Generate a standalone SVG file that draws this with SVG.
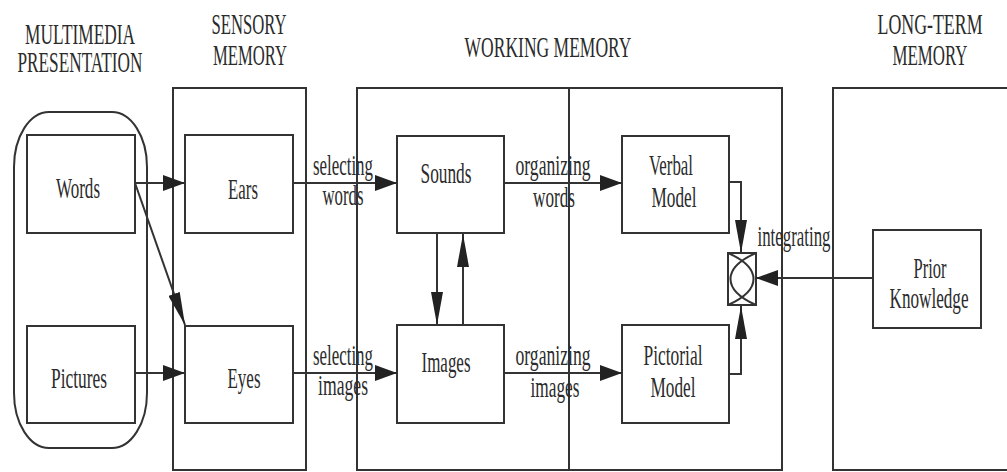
<svg xmlns="http://www.w3.org/2000/svg" width="1007" height="472" viewBox="0 0 1007 472">
<style>
.box{fill:none;stroke:#333;stroke-width:2}
.frame{fill:none;stroke:#333;stroke-width:2}
.ln{fill:none;stroke:#333;stroke-width:2}
text{font-family:"Liberation Serif","Times New Roman",serif;font-size:30px;fill:#2b2b2b;text-anchor:middle}
</style>
<defs>
<marker id="ah" markerUnits="userSpaceOnUse" markerWidth="22" markerHeight="16" refX="22" refY="8" orient="auto" viewBox="0 0 22 16"><path d="M0,0 L22,8 L0,16 z" fill="#222"/></marker>
<marker id="av" markerUnits="userSpaceOnUse" markerWidth="33" markerHeight="12" refX="33" refY="6" orient="auto" viewBox="0 0 33 12"><path d="M0,0 L33,6 L0,12 z" fill="#222"/></marker>
</defs>
<rect width="1007" height="472" fill="#fff"/>
<g id="titles">
<text x="80" y="44" textLength="110" lengthAdjust="spacingAndGlyphs">MULTIMEDIA</text>
<text x="80" y="72" textLength="125" lengthAdjust="spacingAndGlyphs">PRESENTATION</text>
<text x="249" y="34" textLength="75" lengthAdjust="spacingAndGlyphs">SENSORY</text>
<text x="250" y="65" textLength="74" lengthAdjust="spacingAndGlyphs">MEMORY</text>
<text x="548" y="57" textLength="167" lengthAdjust="spacingAndGlyphs">WORKING MEMORY</text>
<text x="930" y="34" textLength="105" lengthAdjust="spacingAndGlyphs">LONG-TERM</text>
<text x="930" y="65" textLength="75" lengthAdjust="spacingAndGlyphs">MEMORY</text>
</g>
<g id="frames">
<rect id="multimedia" class="frame" x="14" y="112" width="133" height="336" rx="35" ry="55"/>
<rect id="sensory" class="frame" x="173" y="88" width="133" height="382"/>
<rect id="working" class="frame" x="357" y="88" width="425" height="382"/>
<line class="frame" x1="569" y1="88" x2="569" y2="470"/>
<path id="longterm" class="frame" d="M1010,88 L833,88 L833,470 L1010,470"/>
</g>
<g id="words"><rect class="box" x="27" y="135" width="108" height="98"/><text x="78" y="198" textLength="44" lengthAdjust="spacingAndGlyphs">Words</text></g>
<g id="pictures"><rect class="box" x="27" y="326" width="108" height="97"/><text x="79" y="388" textLength="56" lengthAdjust="spacingAndGlyphs">Pictures</text></g>
<g id="ears"><rect class="box" x="185" y="135" width="108" height="98"/><text x="243" y="199" textLength="30" lengthAdjust="spacingAndGlyphs">Ears</text></g>
<g id="eyes"><rect class="box" x="185" y="326" width="108" height="97"/><text x="244" y="388" textLength="33" lengthAdjust="spacingAndGlyphs">Eyes</text></g>
<g id="sounds"><rect class="box" x="397" y="136" width="107" height="97"/><text x="446" y="183" textLength="51" lengthAdjust="spacingAndGlyphs">Sounds</text></g>
<g id="images"><rect class="box" x="397" y="325" width="107" height="98"/><text x="446" y="372" textLength="49" lengthAdjust="spacingAndGlyphs">Images</text></g>
<g id="verbal"><rect class="box" x="622" y="136" width="107" height="97"/><text x="671" y="175" textLength="44" lengthAdjust="spacingAndGlyphs">Verbal</text><text x="674" y="207" textLength="45" lengthAdjust="spacingAndGlyphs">Model</text></g>
<g id="pictorial"><rect class="box" x="622" y="325" width="107" height="98"/><text x="673" y="365" textLength="59" lengthAdjust="spacingAndGlyphs">Pictorial</text><text x="673" y="397" textLength="45" lengthAdjust="spacingAndGlyphs">Model</text></g>
<g id="prior"><rect class="box" x="873" y="230" width="108" height="98"/><text x="930" y="278" textLength="33" lengthAdjust="spacingAndGlyphs">Prior</text><text x="929" y="308" textLength="79" lengthAdjust="spacingAndGlyphs">Knowledge</text></g>
<g id="integrate">
<rect class="box" x="728" y="253" width="28" height="52"/>
<path class="ln" stroke-width="1.6" d="M756,253 C722,268 722,290 756,305 M728,253 C762,268 762,290 728,305"/>
</g>
<g id="connectors">
<path class="ln" d="M135,183 L185,183" marker-end="url(#ah)"/>
<path class="ln" d="M135,183 L185,325" marker-end="url(#av)"/>
<path class="ln" d="M135,373 L185,373" marker-end="url(#ah)"/>
<path class="ln" d="M293,183 L397,183" marker-end="url(#ah)"/>
<path class="ln" d="M293,373 L397,373" marker-end="url(#ah)"/>
<path class="ln" d="M437,233 L437,325" marker-end="url(#av)"/>
<path class="ln" d="M463,325 L463,234" marker-end="url(#av)"/>
<path class="ln" d="M504,183 L622,183" marker-end="url(#ah)"/>
<path class="ln" d="M504,373 L622,373" marker-end="url(#ah)"/>
<path class="ln" d="M729,182 L741,182 L741,253" marker-end="url(#av)"/>
<path class="ln" d="M729,374 L741,374 L741,306" marker-end="url(#av)"/>
<path class="ln" d="M873,278 L756,278" marker-end="url(#ah)"/>
</g>
<g id="labels">
<text x="343" y="175" textLength="60" lengthAdjust="spacingAndGlyphs">selecting</text>
<text x="343" y="205" textLength="41" lengthAdjust="spacingAndGlyphs">words</text>
<text x="343" y="365" textLength="60" lengthAdjust="spacingAndGlyphs">selecting</text>
<text x="343" y="395" textLength="50" lengthAdjust="spacingAndGlyphs">images</text>
<text x="553" y="175" textLength="75" lengthAdjust="spacingAndGlyphs">organizing</text>
<text x="554" y="207" textLength="42" lengthAdjust="spacingAndGlyphs">words</text>
<text x="553" y="365" textLength="75" lengthAdjust="spacingAndGlyphs">organizing</text>
<text x="555" y="397" textLength="49" lengthAdjust="spacingAndGlyphs">images</text>
<text x="794" y="246" textLength="73" lengthAdjust="spacingAndGlyphs">integrating</text>
</g>
</svg>
